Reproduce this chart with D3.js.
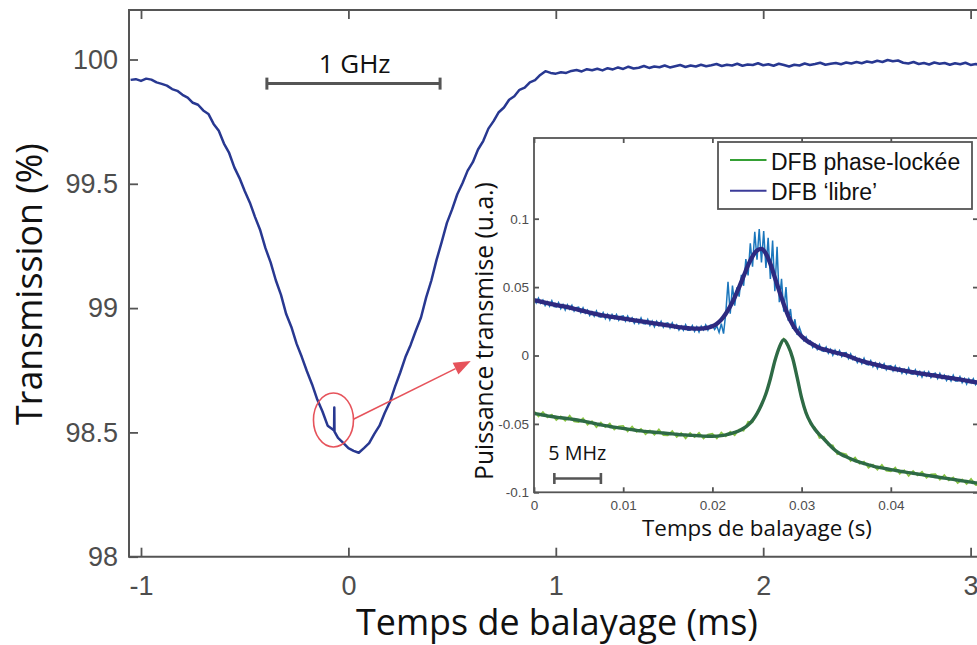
<!DOCTYPE html>
<html>
<head>
<meta charset="utf-8">
<script src="https://cdn.jsdelivr.net/npm/d3@7"></script>
<style>
  html, body { margin: 0; padding: 0; background: #fff; }
  svg { display: block; }
</style>
</head>
<body>
<svg id="chart" width="977" height="645"></svg>
<script>
// ---------- main trace: cell transmission (%) vs sweep time (ms) ----------
const mainT0 = -1.05;      // first sample time (ms)
const mainDt = 0.025;      // sample step (ms)
const mainTransmission = [
  99.918, 99.921, 99.914, 99.923, 99.919, 99.908, 99.902, 99.895, 99.881, 99.874,
  99.858, 99.847, 99.826, 99.818, 99.795, 99.781, 99.741, 99.713, 99.662, 99.624,
  99.566, 99.523, 99.471, 99.424, 99.366, 99.313, 99.241, 99.184, 99.112, 99.053,
  98.976, 98.924, 98.857, 98.804, 98.746, 98.693, 98.632, 98.584, 98.527, 98.512,
  98.478, 98.458, 98.437, 98.426, 98.418, 98.437, 98.457, 98.494, 98.527, 98.578,
  98.622, 98.684, 98.741, 98.803, 98.852, 98.909, 98.962, 99.043, 99.111, 99.194,
  99.266, 99.343, 99.397, 99.458, 99.502, 99.553, 99.587, 99.638, 99.672, 99.722,
  99.752, 99.788, 99.807, 99.838, 99.852, 99.878, 99.887, 99.908, 99.917, 99.938,
  99.953, 99.946, 99.943, 99.949, 99.946, 99.954, 99.958, 99.952, 99.961, 99.957,
  99.963, 99.956, 99.965, 99.960, 99.968, 99.962, 99.971, 99.964, 99.967, 99.974,
  99.966, 99.972, 99.969, 99.976, 99.968, 99.973, 99.978, 99.970, 99.976, 99.972,
  99.979, 99.973, 99.977, 99.982, 99.974, 99.979, 99.976, 99.983, 99.975, 99.980,
  99.978, 99.985, 99.977, 99.981, 99.975, 99.983, 99.978, 99.972, 99.979, 99.976,
  99.984, 99.978, 99.982, 99.987, 99.979, 99.983, 99.986, 99.981, 99.988, 99.984,
  99.990, 99.985, 99.992, 99.988, 99.995, 99.990, 99.998, 99.993, 99.996, 99.987,
  99.984, 99.990, 99.982, 99.986, 99.980, 99.988, 99.983, 99.986, 99.979, 99.985,
  99.981, 99.987, 99.978, 99.982, 99.976, 99.980, 99.975
];
// narrow spike seen when the laser crosses the cavity resonance: [time, value]
const mainSpike = [[-0.069, 98.508], [-0.068, 98.600], [-0.067, 98.503]];
const mainXTicks = [-1, 0, 1, 2, 3];
const mainYTicks = [98, 98.5, 99, 99.5, 100];

// ---------- inset: transmitted power (a.u.) vs sweep time (s) ----------
const fitDt = 0.0005;
// free-running DFB, Lorentzian fit
const freeFit = [
  0.0404, 0.0397, 0.0390, 0.0383, 0.0376, 0.0369, 0.0363, 0.0357, 0.0350, 0.0342,
  0.0334, 0.0326, 0.0318, 0.0310, 0.0302, 0.0295, 0.0290, 0.0285, 0.0280, 0.0275,
  0.0270, 0.0265, 0.0260, 0.0255, 0.0250, 0.0245, 0.0240, 0.0235, 0.0230, 0.0225,
  0.0220, 0.0215, 0.0210, 0.0205, 0.0201, 0.0198, 0.0197, 0.0197, 0.0199, 0.0204,
  0.0214, 0.0232, 0.0262, 0.0305, 0.0360, 0.0425, 0.0500, 0.0580, 0.0660, 0.0725,
  0.0768, 0.0780, 0.0745, 0.0670, 0.0570, 0.0470, 0.0375, 0.0290, 0.0225, 0.0175,
  0.0140, 0.0112, 0.0090, 0.0072, 0.0055, 0.0045, 0.0036, 0.0027, 0.0018, 0.0010,
  0.0002, -0.0011, -0.0024, -0.0035, -0.0045, -0.0054, -0.0062, -0.0070, -0.0078, -0.0086,
  -0.0093, -0.0099, -0.0105, -0.0111, -0.0116, -0.0122, -0.0127, -0.0133, -0.0138, -0.0143,
  -0.0148, -0.0153, -0.0158, -0.0163, -0.0168, -0.0173, -0.0178, -0.0184, -0.0189, -0.0195,
  -0.0200
];
// free-running DFB, raw acquisition
const rawDt = 0.00025;
const freeRaw = [
  0.0423, 0.0384, 0.0420, 0.0382, 0.0405, 0.0365, 0.0393, 0.0361, 0.0400, 0.0358,
  0.0355, 0.0387, 0.0343, 0.0373, 0.0332, 0.0371, 0.0339, 0.0368, 0.0324, 0.0350,
  0.0353, 0.0313, 0.0349, 0.0310, 0.0333, 0.0292, 0.0320, 0.0287, 0.0326, 0.0284,
  0.0281, 0.0314, 0.0270, 0.0301, 0.0260, 0.0300, 0.0269, 0.0300, 0.0257, 0.0285,
  0.0289, 0.0251, 0.0288, 0.0251, 0.0275, 0.0236, 0.0265, 0.0234, 0.0274, 0.0233,
  0.0231, 0.0264, 0.0220, 0.0251, 0.0210, 0.0250, 0.0219, 0.0250, 0.0207, 0.0235,
  0.0239, 0.0201, 0.0238, 0.0201, 0.0225, 0.0186, 0.0215, 0.0184, 0.0225, 0.0185,
  0.0184, 0.0219, 0.0177, 0.0210, 0.0172, 0.0215, 0.0188, 0.0224, 0.0186, 0.0221,
  0.0222, 0.0190, 0.0215, 0.0168, 0.0232, 0.0160, 0.0310, 0.0538, 0.0305, 0.0512,
  0.0365, 0.0498, 0.0430, 0.0590, 0.0510, 0.0705, 0.0585, 0.0820, 0.0650, 0.0905,
  0.0700, 0.0925, 0.0680, 0.0910, 0.0640, 0.0860, 0.0560, 0.0840, 0.0470, 0.0795,
  0.0390, 0.0560, 0.0320, 0.0500, 0.0255, 0.0340, 0.0195, 0.0265, 0.0150, 0.0205,
  0.0159, 0.0109, 0.0135, 0.0089, 0.0105, 0.0059, 0.0082, 0.0045, 0.0079, 0.0035,
  0.0031, 0.0062, 0.0016, 0.0045, 0.0002, 0.0040, 0.0007, 0.0036, -0.0008, 0.0018,
  0.0021, -0.0022, 0.0012, -0.0030, -0.0009, -0.0052, -0.0025, -0.0059, -0.0021, -0.0065,
  -0.0068, -0.0037, -0.0082, -0.0053, -0.0095, -0.0057, -0.0089, -0.0060, -0.0104, -0.0078,
  -0.0074, -0.0113, -0.0076, -0.0114, -0.0090, -0.0130, -0.0101, -0.0133, -0.0092, -0.0134,
  -0.0136, -0.0104, -0.0147, -0.0117, -0.0158, -0.0119, -0.0149, -0.0119, -0.0161, -0.0134,
  -0.0129, -0.0168, -0.0130, -0.0168, -0.0143, -0.0183, -0.0153, -0.0185, -0.0144, -0.0186,
  -0.0187, -0.0155, -0.0198, -0.0168, -0.0209, -0.0170, -0.0200, -0.0170, -0.0213, -0.0186,
  -0.0181
];
// phase-locked DFB, Lorentzian fit
const lockedFit = [
  -0.0424, -0.0429, -0.0435, -0.0441, -0.0446, -0.0451, -0.0455, -0.0459, -0.0463, -0.0468,
  -0.0473, -0.0479, -0.0486, -0.0493, -0.0500, -0.0507, -0.0513, -0.0519, -0.0524, -0.0529,
  -0.0533, -0.0538, -0.0542, -0.0547, -0.0551, -0.0555, -0.0558, -0.0561, -0.0564, -0.0567,
  -0.0570, -0.0573, -0.0576, -0.0579, -0.0581, -0.0583, -0.0585, -0.0587, -0.0589, -0.0590,
  -0.0590, -0.0589, -0.0586, -0.0580, -0.0572, -0.0562, -0.0550, -0.0532, -0.0508, -0.0474,
  -0.0425, -0.0360, -0.0280, -0.0170, -0.0040, 0.0060, 0.0115, 0.0070, -0.0020, -0.0160,
  -0.0310, -0.0420, -0.0490, -0.0540, -0.0578, -0.0610, -0.0645, -0.0678, -0.0705, -0.0725,
  -0.0740, -0.0755, -0.0768, -0.0779, -0.0790, -0.0799, -0.0808, -0.0816, -0.0822, -0.0828,
  -0.0834, -0.0840, -0.0845, -0.0851, -0.0856, -0.0861, -0.0866, -0.0871, -0.0876, -0.0881,
  -0.0886, -0.0891, -0.0896, -0.0901, -0.0906, -0.0911, -0.0916, -0.0921, -0.0926, -0.0931,
  -0.0936
];
// phase-locked DFB, raw acquisition
const lockedRaw = [
  -0.0405, -0.0446, -0.0412, -0.0453, -0.0431, -0.0473, -0.0445, -0.0478, -0.0439, -0.0483,
  -0.0487, -0.0458, -0.0506, -0.0480, -0.0525, -0.0490, -0.0524, -0.0497, -0.0542, -0.0517,
  -0.0514, -0.0555, -0.0519, -0.0559, -0.0536, -0.0577, -0.0548, -0.0580, -0.0540, -0.0582,
  -0.0584, -0.0552, -0.0596, -0.0566, -0.0606, -0.0566, -0.0596, -0.0565, -0.0607, -0.0578,
  -0.0571, -0.0606, -0.0563, -0.0592, -0.0557, -0.0584, -0.0540, -0.0551, -0.0484, -0.0489,
  -0.0418, -0.0368, -0.0272, -0.0178, -0.0032, 0.0052, 0.0122, 0.0062, -0.0012, -0.0168,
  -0.0318, -0.0408, -0.0504, -0.0527, -0.0603, -0.0593, -0.0656, -0.0656, -0.0723, -0.0713,
  -0.0721, -0.0772, -0.0745, -0.0791, -0.0775, -0.0821, -0.0798, -0.0835, -0.0798, -0.0843,
  -0.0848, -0.0819, -0.0865, -0.0838, -0.0881, -0.0844, -0.0877, -0.0849, -0.0894, -0.0869,
  -0.0867, -0.0908, -0.0873, -0.0913, -0.0891, -0.0933, -0.0906, -0.0940, -0.0902, -0.0946,
  -0.0950
];
const insetXTicks = [0, 0.01, 0.02, 0.03, 0.04];
const insetYTicks = [-0.1, -0.05, 0, 0.05, 0.1];
const legendLabels = ["DFB phase-lockée", "DFB \u2018libre\u2019"];

// ---------- styling ----------
const AXIS = "#555555";
const TICK_TEXT = "#4d4d4d";
const TICK_FONT = "'Liberation Sans', Arial, Helvetica, sans-serif";
const LABEL_FONT = "'Open Sans', 'Noto Sans', sans-serif";
const RED = "#e6535b";
const C_MAIN = "#283891";
const C_FREE_RAW = "#1b76bc";
const C_FREE_FIT = "#2d2a80";
const C_LOCK_RAW = "#88c540";
const C_LOCK_FIT = "#2e6a45";
const C_LEG_LOCK = "#35a035";
const C_LEG_FREE = "#3b3b99";

const svg = d3.select("#chart");

// scale a text so its advance width matches a given length
function fitText(sel, width) {
  const w = sel.node().getComputedTextLength();
  const fs = parseFloat(sel.attr("font-size"));
  sel.attr("font-size", fs * width / w);
  return sel;
}
function styleAxis(g, fontSize) {
  g.select(".domain").remove();
  g.selectAll(".tick line").attr("stroke", AXIS).attr("stroke-width", 1.8);
  g.selectAll(".tick text")
    .attr("fill", TICK_TEXT)
    .attr("font-family", TICK_FONT)
    .attr("font-size", fontSize);
}
const fmt = d => String(d);

// ================= main axes =================
const M = { left: 129, right: 1000, top: 10, bottom: 556.7 };
const mx = d3.scaleLinear().domain([-1, 3]).range([141, 970.6]);
const my = d3.scaleLinear().domain([98, 100]).range([556.7, 59.5]);

svg.append("defs").append("clipPath").attr("id", "mainClip")
  .append("rect").attr("x", M.left).attr("y", M.top)
  .attr("width", M.right - M.left).attr("height", M.bottom - M.top);

const mainPts = mainTransmission.map((v, i) => [mainT0 + i * mainDt, v])
  .concat(mainSpike)
  .sort((a, b) => a[0] - b[0]);

svg.append("path")
  .attr("clip-path", "url(#mainClip)")
  .attr("d", d3.line().x(d => mx(d[0])).y(d => my(d[1]))(mainPts))
  .attr("fill", "none").attr("stroke", C_MAIN).attr("stroke-width", 2.5)
  .attr("stroke-linejoin", "round");

// axes box
svg.append("path")
  .attr("d", `M${M.right},${M.top}H${M.left}V${M.bottom}H${M.right}`)
  .attr("fill", "none").attr("stroke", AXIS).attr("stroke-width", 2);

svg.append("g").attr("transform", `translate(0,${M.bottom})`)
  .call(d3.axisBottom(mx).tickValues(mainXTicks).tickSizeInner(-9).tickSizeOuter(0)
    .tickPadding(19).tickFormat(fmt))
  .call(g => styleAxis(g, 27));
svg.append("g").attr("transform", `translate(0,${M.top})`)
  .call(d3.axisTop(mx).tickValues(mainXTicks).tickSizeInner(-9).tickSizeOuter(0)
    .tickFormat(() => ""))
  .call(g => styleAxis(g, 27));
svg.append("g").attr("transform", `translate(${M.left},0)`)
  .call(d3.axisLeft(my).tickValues(mainYTicks).tickSizeInner(-9).tickSizeOuter(0)
    .tickPadding(11).tickFormat(fmt))
  .call(g => styleAxis(g, 27));

// axis titles
fitText(svg.append("text")
  .attr("x", 557).attr("y", 635).attr("text-anchor", "middle")
  .attr("font-family", LABEL_FONT).attr("font-size", 34).attr("fill", "#111")
  .text("Temps de balayage (ms)"), 402);
fitText(svg.append("text")
  .attr("transform", "translate(42,284) rotate(-90)").attr("text-anchor", "middle")
  .attr("font-family", LABEL_FONT).attr("font-size", 34).attr("fill", "#111")
  .text("Transmission (%)"), 282);

// 1 GHz scale bar
function scaleBar(x0, x1, y, cap) {
  const g = svg.append("g").attr("stroke", AXIS).attr("stroke-width", 3).attr("fill", "none");
  g.append("line").attr("x1", x0).attr("x2", x1).attr("y1", y).attr("y2", y);
  g.append("line").attr("x1", x0).attr("x2", x0).attr("y1", y - cap).attr("y2", y + cap);
  g.append("line").attr("x1", x1).attr("x2", x1).attr("y1", y - cap).attr("y2", y + cap);
}
scaleBar(mx(-0.393), mx(0.442), my(99.903), 6);
fitText(svg.append("text")
  .attr("x", mx(0.030)).attr("y", my(99.947)).attr("text-anchor", "middle")
  .attr("font-family", LABEL_FONT).attr("font-size", 25).attr("fill", "#111")
  .text("1 GHz"), 72);

// zoom marker: ellipse + arrow
svg.append("ellipse")
  .attr("cx", mx(-0.072)).attr("cy", my(98.55)).attr("rx", 20).attr("ry", 27)
  .attr("fill", "none").attr("stroke", RED).attr("stroke-width", 1.6);
{
  const x0 = mx(0.024), y0 = my(98.553), x1 = mx(0.590), y1 = my(98.787);
  const ang = Math.atan2(y1 - y0, x1 - x0);
  const L = 17, W = 6.5;
  const bx = x1 - L * Math.cos(ang), by = y1 - L * Math.sin(ang);
  svg.append("line").attr("x1", x0).attr("y1", y0).attr("x2", bx).attr("y2", by)
    .attr("stroke", RED).attr("stroke-width", 1.6);
  const px = -Math.sin(ang) * W, py = Math.cos(ang) * W;
  svg.append("path")
    .attr("d", `M${x1},${y1}L${bx + px},${by + py}L${bx - px},${by - py}Z`)
    .attr("fill", RED);
}

// ================= inset axes =================
const I = { left: 534, right: 980, top: 138, bottom: 492.3 };
const ix = d3.scaleLinear().domain([0, 0.05]).range([534, 980]);
const iy = d3.scaleLinear().domain([-0.1, 0.1]).range([492.3, 218.7]);

svg.append("rect")
  .attr("x", I.left).attr("y", I.top)
  .attr("width", I.right - I.left).attr("height", I.bottom - I.top)
  .attr("fill", "#fff");

svg.select("defs").append("clipPath").attr("id", "insetClip")
  .append("rect").attr("x", I.left).attr("y", I.top)
  .attr("width", I.right - I.left).attr("height", I.bottom - I.top);

const plot = svg.append("g").attr("clip-path", "url(#insetClip)");
const rawLine = dt => d3.line().x((d, i) => ix(i * dt)).y(d => iy(d));
const fitLine = d3.line().x((d, i) => ix(i * fitDt)).y(d => iy(d)).curve(d3.curveMonotoneX);

plot.append("path").attr("d", rawLine(rawDt)(freeRaw))
  .attr("fill", "none").attr("stroke", C_FREE_RAW).attr("stroke-width", 1.5);
plot.append("path").attr("d", fitLine(freeFit))
  .attr("fill", "none").attr("stroke", C_FREE_FIT).attr("stroke-width", 4.3)
  .attr("stroke-linejoin", "round");
plot.append("path").attr("d", rawLine(fitDt)(lockedRaw))
  .attr("fill", "none").attr("stroke", C_LOCK_RAW).attr("stroke-width", 1.6);
plot.append("path").attr("d", fitLine(lockedFit))
  .attr("fill", "none").attr("stroke", C_LOCK_FIT).attr("stroke-width", 3.4)
  .attr("stroke-linejoin", "round");

svg.append("rect")
  .attr("x", I.left).attr("y", I.top)
  .attr("width", I.right - I.left).attr("height", I.bottom - I.top)
  .attr("fill", "none").attr("stroke", AXIS).attr("stroke-width", 1.8);

svg.append("g").attr("transform", `translate(0,${I.bottom})`)
  .call(d3.axisBottom(ix).tickValues(insetXTicks).tickSizeInner(-5).tickSizeOuter(0)
    .tickPadding(8).tickFormat(fmt))
  .call(g => styleAxis(g, 13.5));
svg.append("g").attr("transform", `translate(0,${I.top})`)
  .call(d3.axisTop(ix).tickValues(insetXTicks).tickSizeInner(-5).tickSizeOuter(0)
    .tickFormat(() => ""))
  .call(g => styleAxis(g, 13.5));
svg.append("g").attr("transform", `translate(${I.left},0)`)
  .call(d3.axisLeft(iy).tickValues(insetYTicks).tickSizeInner(-5).tickSizeOuter(0)
    .tickPadding(5).tickFormat(fmt))
  .call(g => styleAxis(g, 13.5));
svg.append("g").attr("transform", `translate(${I.right - 2},0)`)
  .call(d3.axisRight(iy).tickValues(insetYTicks).tickSizeInner(-5).tickSizeOuter(0)
    .tickFormat(() => ""))
  .call(g => styleAxis(g, 13.5));

fitText(svg.append("text")
  .attr("x", 757).attr("y", 536).attr("text-anchor", "middle")
  .attr("font-family", LABEL_FONT).attr("font-size", 21).attr("fill", "#111")
  .text("Temps de balayage (s)"), 230);
fitText(svg.append("text")
  .attr("transform", "translate(492.5,331) rotate(-90)").attr("text-anchor", "middle")
  .attr("font-family", LABEL_FONT).attr("font-size", 21).attr("fill", "#111")
  .text("Puissance transmise (u.a.)"), 298);

// 5 MHz scale bar
{
  const g = svg.append("g").attr("stroke", AXIS).attr("stroke-width", 2.6);
  const x0 = ix(0.00228), x1 = ix(0.0075), y = iy(-0.0899);
  g.append("line").attr("x1", x0).attr("x2", x1).attr("y1", y).attr("y2", y);
  g.append("line").attr("x1", x0).attr("x2", x0).attr("y1", y - 5.5).attr("y2", y + 5.5);
  g.append("line").attr("x1", x1).attr("x2", x1).attr("y1", y - 5.5).attr("y2", y + 5.5);
}
fitText(svg.append("text")
  .attr("x", ix(0.00161)).attr("y", iy(-0.0762))
  .attr("font-family", LABEL_FONT).attr("font-size", 17).attr("fill", "#111")
  .text("5 MHz"), 58);

// legend
{
  const lg = svg.append("g");
  lg.append("rect").attr("x", 718).attr("y", 142).attr("width", 254).attr("height", 67)
    .attr("fill", "#fff").attr("stroke", AXIS).attr("stroke-width", 1.8);
  const colors = [C_LEG_LOCK, C_LEG_FREE];
  const rowsY = [160, 190.7];
  legendLabels.forEach((lab, i) => {
    lg.append("line").attr("x1", 730).attr("x2", 766.5)
      .attr("y1", rowsY[i]).attr("y2", rowsY[i])
      .attr("stroke", colors[i]).attr("stroke-width", 2);
    lg.append("text").attr("x", 771).attr("y", rowsY[i] + 9.5)
      .attr("font-family", TICK_FONT).attr("font-size", 23).attr("fill", "#111")
      .text(lab);
  });
}
</script>
</body>
</html>
